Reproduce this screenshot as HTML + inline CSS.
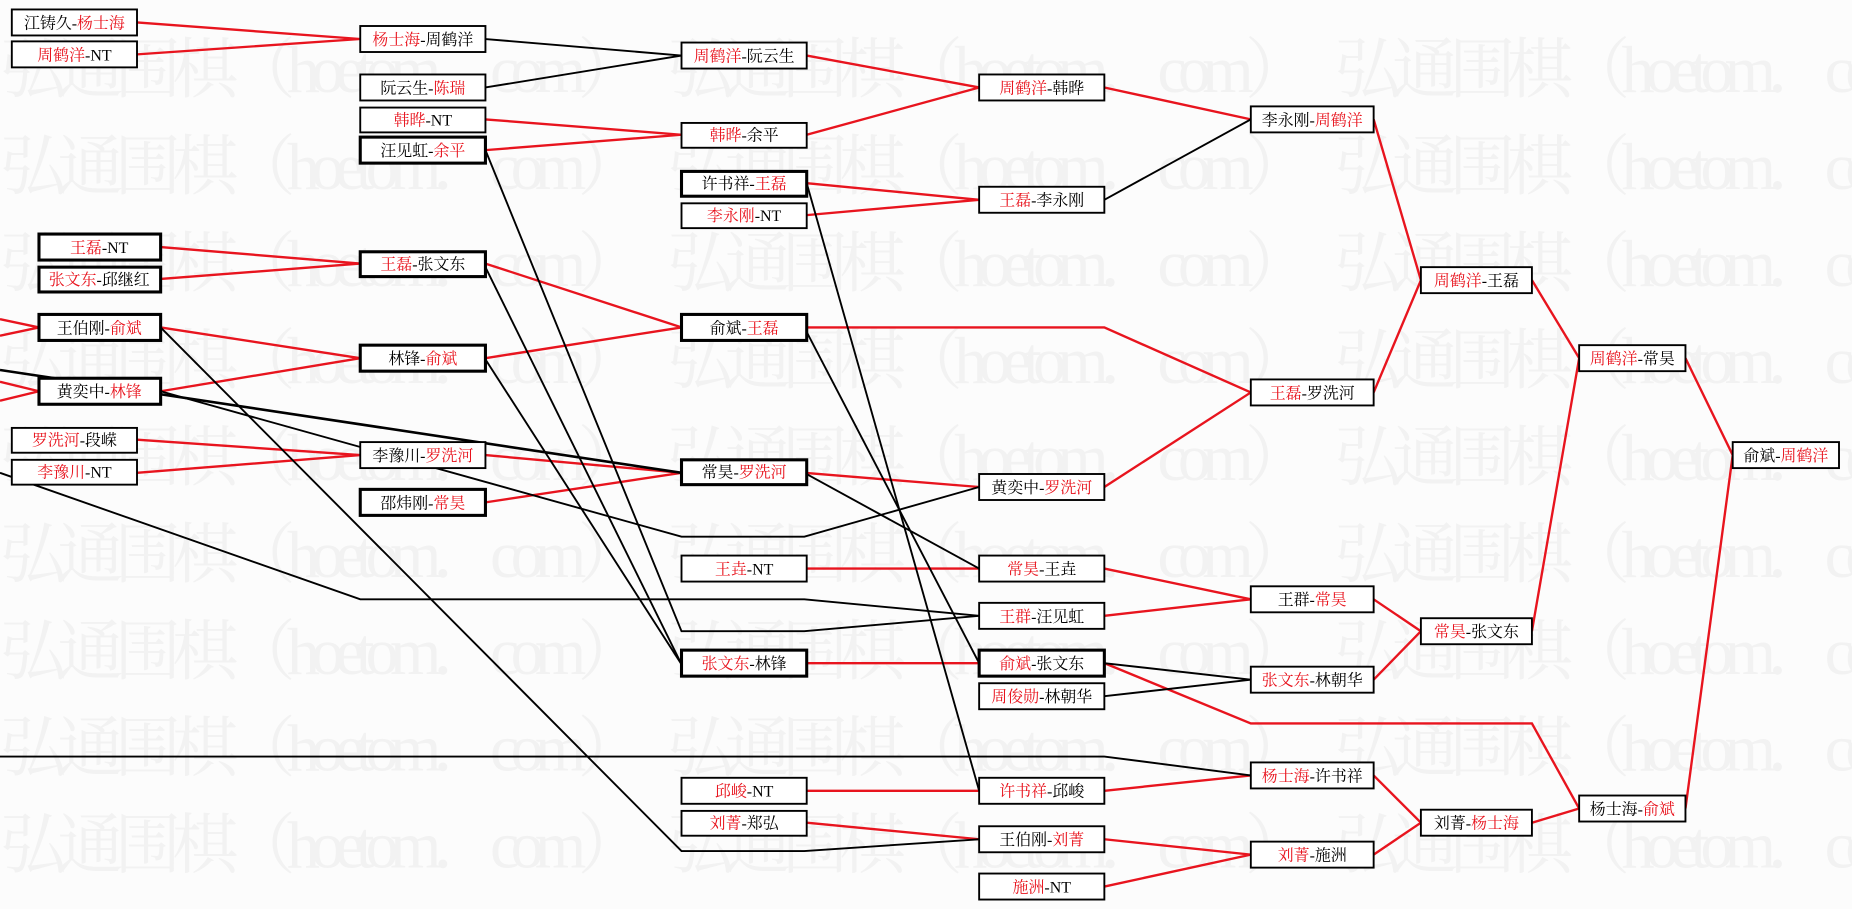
<!DOCTYPE html>
<html><head><meta charset="utf-8">
<style>
html,body{margin:0;padding:0;background:#fcfcfc;}
svg{display:block;}
text{font-family:"Liberation Serif","Noto Serif CJK SC","Noto Sans CJK SC",serif;}
.wm{fill:#f2f2f2;font-size:56px;}
.r{fill:#e8141e;}
.t{font-size:13.5px;fill:#000;}
</style></head><body>
<svg width="1852" height="909" viewBox="0 0 1568 769" preserveAspectRatio="none" xmlns="http://www.w3.org/2000/svg">
<rect width="1568" height="769" fill="#fcfcfc"/>
<g class="wm">
<text x="0" y="78"><tspan x="0" textLength="545">弘通围棋（hoetom．com）</tspan><tspan x="565" textLength="545">弘通围棋（hoetom．com）</tspan><tspan x="1130" textLength="545">弘通围棋（hoetom．com）</tspan></text>
<text x="0" y="160"><tspan x="0" textLength="545">弘通围棋（hoetom．com）</tspan><tspan x="565" textLength="545">弘通围棋（hoetom．com）</tspan><tspan x="1130" textLength="545">弘通围棋（hoetom．com）</tspan></text>
<text x="0" y="242"><tspan x="0" textLength="545">弘通围棋（hoetom．com）</tspan><tspan x="565" textLength="545">弘通围棋（hoetom．com）</tspan><tspan x="1130" textLength="545">弘通围棋（hoetom．com）</tspan></text>
<text x="0" y="324"><tspan x="0" textLength="545">弘通围棋（hoetom．com）</tspan><tspan x="565" textLength="545">弘通围棋（hoetom．com）</tspan><tspan x="1130" textLength="545">弘通围棋（hoetom．com）</tspan></text>
<text x="0" y="406"><tspan x="0" textLength="545">弘通围棋（hoetom．com）</tspan><tspan x="565" textLength="545">弘通围棋（hoetom．com）</tspan><tspan x="1130" textLength="545">弘通围棋（hoetom．com）</tspan></text>
<text x="0" y="488"><tspan x="0" textLength="545">弘通围棋（hoetom．com）</tspan><tspan x="565" textLength="545">弘通围棋（hoetom．com）</tspan><tspan x="1130" textLength="545">弘通围棋（hoetom．com）</tspan></text>
<text x="0" y="570"><tspan x="0" textLength="545">弘通围棋（hoetom．com）</tspan><tspan x="565" textLength="545">弘通围棋（hoetom．com）</tspan><tspan x="1130" textLength="545">弘通围棋（hoetom．com）</tspan></text>
<text x="0" y="652"><tspan x="0" textLength="545">弘通围棋（hoetom．com）</tspan><tspan x="565" textLength="545">弘通围棋（hoetom．com）</tspan><tspan x="1130" textLength="545">弘通围棋（hoetom．com）</tspan></text>
<text x="0" y="734"><tspan x="0" textLength="545">弘通围棋（hoetom．com）</tspan><tspan x="565" textLength="545">弘通围棋（hoetom．com）</tspan><tspan x="1130" textLength="545">弘通围棋（hoetom．com）</tspan></text>
</g>
<g fill="none" stroke="#e8141e" stroke-width="2">
<polyline points="116,19 305,33 116,46"/>
<polyline points="411,101 577,114 411,127"/>
<polyline points="683,47 829,74 683,114"/>
<polyline points="935,74 1059,101"/>
<polyline points="683,155 829,169 683,182"/>
<polyline points="1163,101 1203,237 1163,332"/>
<polyline points="681,277 935,277 1059,332"/>
<polyline points="935,412 1059,332"/>
<polyline points="1297,237 1337,303 1297,534"/>
<polyline points="1427,303 1467,385 1427,684"/>
<polyline points="935,481 1059,507 935,521"/>
<polyline points="1163,507 1203,534 1163,575"/>
<polyline points="935,561 1059,612 1297,612 1337,684"/>
<polyline points="1297,696 1337,684"/>
<polyline points="1163,656 1203,696 1163,723"/>
<polyline points="683,481 829,481"/>
<polyline points="683,561 829,561"/>
<polyline points="683,669 829,669"/>
<polyline points="935,669 1059,656"/>
<polyline points="683,696 829,710"/>
<polyline points="935,710 1059,723 935,750"/>
<polyline points="136,209 305,223 136,236"/>
<polyline points="136,277 305,303 136,331"/>
<polyline points="411,223 577,277 411,303"/>
<polyline points="116,372 305,385 116,400"/>
<polyline points="411,385 577,400 411,425"/>
<polyline points="681,400 829,412"/>
<polyline points="0,270 33,277 0,284"/>
<polyline points="0,323 33,331 0,339"/>
</g>
<g fill="none" stroke="#000" stroke-width="1.6">
<polyline points="411,33 577,47 411,74"/>
<polyline points="935,169 1059,101"/>
<polyline points="411,127 577,534 681,534 829,521"/>
<polyline points="411,226 577,562"/>
<polyline points="411,304 577,562"/>
<polyline points="683,155 829,669"/>
<polyline points="681,277 829,561"/>
<polyline points="681,400 829,481"/>
<polyline points="0,313 577,400" stroke-width="2.2"/>
<polyline points="136,331 577,454 681,454 829,412"/>
<polyline points="0,400 305,507 681,507 829,521"/>
<polyline points="136,277 577,720 681,720 829,710"/>
<polyline points="0,640 935,640 1059,656"/>
<polyline points="935,561 1059,575 935,589"/>
</g>
<g fill="#fff" stroke="#000">
<g stroke-width="1.6">
<rect x="10" y="8" width="106" height="22"/><rect x="10" y="35" width="106" height="22"/>
<rect x="10" y="362" width="106" height="21"/><rect x="10" y="389" width="106" height="21"/>
<rect x="305" y="22" width="106" height="22"/><rect x="305" y="63" width="106" height="22"/><rect x="305" y="91" width="106" height="21"/>
<rect x="305" y="374" width="106" height="22"/>
<rect x="577" y="36" width="106" height="22"/><rect x="577" y="104" width="106" height="21"/><rect x="577" y="172" width="106" height="21"/>
<rect x="577" y="470" width="106" height="22"/><rect x="577" y="658" width="106" height="22"/><rect x="577" y="686" width="106" height="21"/>
<rect x="829" y="63" width="106" height="22"/><rect x="829" y="158" width="106" height="22"/><rect x="829" y="401" width="106" height="22"/>
<rect x="829" y="470" width="106" height="22"/><rect x="829" y="510" width="106" height="22"/><rect x="829" y="578" width="106" height="22"/>
<rect x="829" y="658" width="106" height="22"/><rect x="829" y="699" width="106" height="22"/><rect x="829" y="739" width="106" height="22"/>
<rect x="1059" y="90" width="104" height="22"/><rect x="1059" y="321" width="104" height="22"/><rect x="1059" y="496" width="104" height="22"/>
<rect x="1059" y="564" width="104" height="22"/><rect x="1059" y="645" width="104" height="22"/><rect x="1059" y="712" width="104" height="22"/>
<rect x="1203" y="226" width="94" height="22"/><rect x="1203" y="523" width="94" height="22"/><rect x="1203" y="685" width="94" height="22"/>
<rect x="1337" y="292" width="90" height="22"/><rect x="1337" y="673" width="90" height="22"/><rect x="1467" y="374" width="90" height="22"/>
</g>
<g stroke-width="2.6">
<rect x="33" y="198" width="103" height="22"/><rect x="33" y="226" width="103" height="21"/>
<rect x="33" y="266" width="103" height="22"/><rect x="33" y="320" width="103" height="22"/>
<rect x="305" y="116" width="106" height="22"/><rect x="305" y="213" width="106" height="21"/>
<rect x="305" y="292" width="106" height="22"/><rect x="305" y="414" width="106" height="22"/>
<rect x="577" y="145" width="106" height="21"/><rect x="577" y="266" width="106" height="22"/>
<rect x="577" y="389" width="106" height="21"/><rect x="577" y="550" width="106" height="22"/>
<rect x="829" y="550" width="106" height="22"/>
</g>
</g>
<g class="t" text-anchor="middle">
<text x="63" y="24">江铸久-<tspan class="r">杨士海</tspan></text>
<text x="63" y="51"><tspan class="r">周鹤洋</tspan>-NT</text>
<text x="84" y="214"><tspan class="r">王磊</tspan>-NT</text>
<text x="84" y="241"><tspan class="r">张文东</tspan>-邱继红</text>
<text x="84" y="282">王伯刚-<tspan class="r">俞斌</tspan></text>
<text x="84" y="336">黄奕中-<tspan class="r">林锋</tspan></text>
<text x="63" y="377"><tspan class="r">罗洗河</tspan>-段嵘</text>
<text x="63" y="404"><tspan class="r">李豫川</tspan>-NT</text>
<text x="358" y="38"><tspan class="r">杨士海</tspan>-周鹤洋</text>
<text x="358" y="79">阮云生-<tspan class="r">陈瑞</tspan></text>
<text x="358" y="106"><tspan class="r">韩晔</tspan>-NT</text>
<text x="358" y="132">汪见虹-<tspan class="r">余平</tspan></text>
<text x="358" y="228"><tspan class="r">王磊</tspan>-张文东</text>
<text x="358" y="308">林锋-<tspan class="r">俞斌</tspan></text>
<text x="358" y="390">李豫川-<tspan class="r">罗洗河</tspan></text>
<text x="358" y="430">邵炜刚-<tspan class="r">常昊</tspan></text>
<text x="630" y="52"><tspan class="r">周鹤洋</tspan>-阮云生</text>
<text x="630" y="119"><tspan class="r">韩晔</tspan>-余平</text>
<text x="630" y="160">许书祥-<tspan class="r">王磊</tspan></text>
<text x="630" y="187"><tspan class="r">李永刚</tspan>-NT</text>
<text x="630" y="282">俞斌-<tspan class="r">王磊</tspan></text>
<text x="630" y="404">常昊-<tspan class="r">罗洗河</tspan></text>
<text x="630" y="486"><tspan class="r">王垚</tspan>-NT</text>
<text x="630" y="566"><tspan class="r">张文东</tspan>-林锋</text>
<text x="630" y="674"><tspan class="r">邱峻</tspan>-NT</text>
<text x="630" y="701"><tspan class="r">刘菁</tspan>-郑弘</text>
<text x="882" y="79"><tspan class="r">周鹤洋</tspan>-韩晔</text>
<text x="882" y="174"><tspan class="r">王磊</tspan>-李永刚</text>
<text x="882" y="417">黄奕中-<tspan class="r">罗洗河</tspan></text>
<text x="882" y="486"><tspan class="r">常昊</tspan>-王垚</text>
<text x="882" y="526"><tspan class="r">王群</tspan>-汪见虹</text>
<text x="882" y="566"><tspan class="r">俞斌</tspan>-张文东</text>
<text x="882" y="594"><tspan class="r">周俊勋</tspan>-林朝华</text>
<text x="882" y="674"><tspan class="r">许书祥</tspan>-邱峻</text>
<text x="882" y="715">王伯刚-<tspan class="r">刘菁</tspan></text>
<text x="882" y="755"><tspan class="r">施洲</tspan>-NT</text>
<text x="1111" y="106">李永刚-<tspan class="r">周鹤洋</tspan></text>
<text x="1111" y="337"><tspan class="r">王磊</tspan>-罗洗河</text>
<text x="1111" y="512">王群-<tspan class="r">常昊</tspan></text>
<text x="1111" y="580"><tspan class="r">张文东</tspan>-林朝华</text>
<text x="1111" y="661"><tspan class="r">杨士海</tspan>-许书祥</text>
<text x="1111" y="728"><tspan class="r">刘菁</tspan>-施洲</text>
<text x="1250" y="242"><tspan class="r">周鹤洋</tspan>-王磊</text>
<text x="1250" y="539"><tspan class="r">常昊</tspan>-张文东</text>
<text x="1250" y="701">刘菁-<tspan class="r">杨士海</tspan></text>
<text x="1382" y="308"><tspan class="r">周鹤洋</tspan>-常昊</text>
<text x="1382" y="689">杨士海-<tspan class="r">俞斌</tspan></text>
<text x="1512" y="390">俞斌-<tspan class="r">周鹤洋</tspan></text>
</g>
</svg>
</body></html>
